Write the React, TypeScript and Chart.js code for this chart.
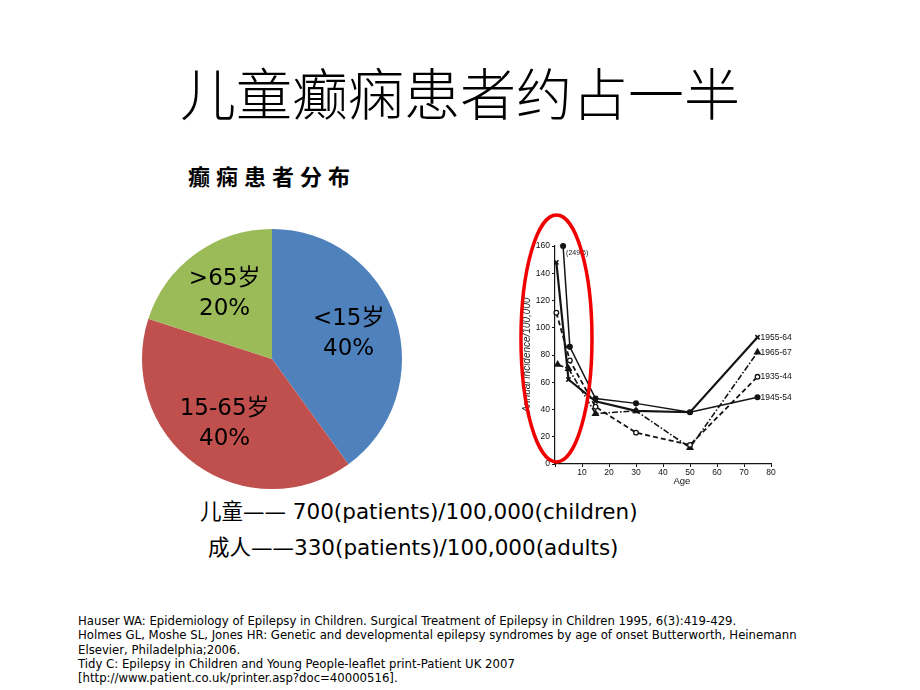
import React, { useEffect, useRef } from "react";
import { Chart, registerables } from "chart.js";

Chart.register(...registerables);

// ---------- pie data ----------
const pieLabels = ["<15岁", "15-65岁", ">65岁"];
const pieValues = [40, 40, 20];
const pieColors = ["#4F81BD", "#C0504D", "#9BBB59"];

// ---------- line chart data (annual incidence per 100,000 by age) ----------
const seriesNames = ["1935-44", "1945-54", "1955-64", "1965-67"];
const ages1935 = [0.5, 5.5, 15, 30, 50, 75];
const inc1935 = [111, 76, 42, 23, 14, 64];
const ages1945 = [3, 5.5, 15, 30, 50, 75];
const inc1945 = [160, 86, 48, 44.5, 38, 49];
const ages1955 = [0.5, 5, 15, 30, 50, 75];
const inc1955 = [148, 62, 46, 39, 38, 93];
const ages1965 = [1, 5, 15, 30, 50, 75];
const inc1965 = [73, 70, 37, 39, 12, 82];
const peakNote = "(249.6)";
const yAxisTitle = "Annual incidence/100,000";
const xAxisTitle = "Age";
const xAxisTitleAge = 47;
// highlighted childhood region (data units)
const hlAge = [-12.6, 13.7];
const hlInc = [1.5, 182.7];

const titleText = "儿童癫痫患者约占一半";
const pieTitle = "癫痫患者分布";
const statLines = [
  "儿童—— 700(patients)/100,000(children)",
  "成人——330(patients)/100,000(adults)",
];
const refLines = [
  "Hauser WA: Epidemiology of Epilepsy in Children. Surgical Treatment of Epilepsy in Children 1995, 6(3):419-429.",
  "Holmes GL, Moshe SL, Jones HR: Genetic and developmental epilepsy syndromes by age of onset Butterworth, Heinemann",
  "Elsevier, Philadelphia;2006.",
  "Tidy C: Epilepsy in Children and Young People-leaflet print-Patient UK 2007",
  "[http://www.patient.co.uk/printer.asp?doc=40000516].",
];

const zip = (xs: number[], ys: number[]) => xs.map((x, i) => ({ x, y: ys[i] }));

const pieLabelPlugin = {
  id: "pieLabels",
  afterDatasetsDraw(chart: any) {
    const ctx = chart.ctx;
    const meta = chart.getDatasetMeta(0);
    const total = pieValues.reduce((a, b) => a + b, 0);
    meta.data.forEach((arc: any, i: number) => {
      const p = arc.getProps(["x", "y", "startAngle", "endAngle", "outerRadius"], true);
      const mid = (p.startAngle + p.endAngle) / 2;
      const r = p.outerRadius * 0.62;
      const cx = p.x + Math.cos(mid) * r;
      const cy = p.y + Math.sin(mid) * r;
      ctx.save();
      ctx.fillStyle = "#000";
      ctx.font = '23px "DejaVu Sans", "Noto Sans CJK SC", sans-serif';
      ctx.textAlign = "center";
      ctx.textBaseline = "middle";
      ctx.fillText(pieLabels[i], cx, cy - 15);
      ctx.fillText(Math.round((pieValues[i] / total) * 100) + "%", cx, cy + 15);
      ctx.restore();
    });
  },
};

const lineExtrasPlugin = {
  id: "lineExtras",
  afterDraw(chart: any) {
    const ctx = chart.ctx;
    const xs = chart.scales.x;
    const ys = chart.scales.y;
    ctx.save();
    ctx.fillStyle = "#111";
    ctx.font = '8.5px "Liberation Sans", sans-serif';
    ctx.textAlign = "left";
    ctx.textBaseline = "middle";
    chart.data.datasets.forEach((ds: any, i: number) => {
      const meta = chart.getDatasetMeta(i);
      const last = meta.data[meta.data.length - 1];
      ctx.fillText(ds.label, last.x + 3, last.y);
    });
    const peak = chart.getDatasetMeta(1).data[0];
    ctx.font = '7px "Liberation Sans", sans-serif';
    ctx.fillText(peakNote, peak.x + 3, peak.y + 7);
    ctx.font = '9.5px "Liberation Sans", sans-serif';
    ctx.textAlign = "center";
    ctx.fillText(xAxisTitle, xs.getPixelForValue(xAxisTitleAge), xs.bottom - 9);
    ctx.restore();

    const x0 = xs.getPixelForValue(hlAge[0]);
    const x1 = xs.getPixelForValue(hlAge[1]);
    const y0 = ys.getPixelForValue(hlInc[1]);
    const y1 = ys.getPixelForValue(hlInc[0]);
    ctx.save();
    ctx.beginPath();
    ctx.ellipse((x0 + x1) / 2, (y0 + y1) / 2, (x1 - x0) / 2, (y1 - y0) / 2, 0, 0, Math.PI * 2);
    ctx.strokeStyle = "#f00000";
    ctx.lineWidth = 3.5;
    ctx.stroke();
    ctx.restore();
  },
};

export default function App() {
  const pieRef = useRef<HTMLCanvasElement>(null);
  const lineRef = useRef<HTMLCanvasElement>(null);

  useEffect(() => {
    const pie = new Chart(pieRef.current!, {
      type: "pie",
      data: {
        labels: pieLabels,
        datasets: [{ data: pieValues, backgroundColor: pieColors, borderWidth: 0 }],
      },
      options: {
        animation: false,
        responsive: true,
        maintainAspectRatio: false,
        layout: { padding: 2 },
        plugins: { legend: { display: false }, tooltip: { enabled: false } },
      },
      plugins: [pieLabelPlugin],
    });

    const ink = "#141414";
    const line = new Chart(lineRef.current!, {
      type: "line",
      data: {
        datasets: [
          {
            label: seriesNames[0],
            data: zip(ages1935, inc1935),
            borderColor: ink,
            borderWidth: 1.8,
            borderDash: [5, 3],
            pointStyle: "circle",
            pointRadius: 2.3,
            pointBackgroundColor: "#fff",
            pointBorderColor: ink,
            pointBorderWidth: 1.3,
            clip: false,
          },
          {
            label: seriesNames[1],
            data: zip(ages1945, inc1945),
            borderColor: ink,
            borderWidth: 1.5,
            pointStyle: "circle",
            pointRadius: 2.3,
            pointBackgroundColor: ink,
            pointBorderColor: ink,
            clip: false,
          },
          {
            label: seriesNames[2],
            data: zip(ages1955, inc1955),
            borderColor: ink,
            borderWidth: 2.2,
            pointStyle: "crossRot",
            pointRadius: 3,
            pointBorderColor: ink,
            pointBorderWidth: 1.6,
            clip: false,
          },
          {
            label: seriesNames[3],
            data: zip(ages1965, inc1965),
            borderColor: ink,
            borderWidth: 1.6,
            borderDash: [6, 2, 1.5, 2],
            pointStyle: "triangle",
            pointRadius: 3,
            pointBackgroundColor: ink,
            pointBorderColor: ink,
            clip: false,
          },
        ],
      },
      options: {
        animation: false,
        responsive: true,
        maintainAspectRatio: false,
        layout: { padding: { left: 0, right: 34, top: 36, bottom: 0 } },
        plugins: { legend: { display: false }, tooltip: { enabled: false } },
        scales: {
          x: {
            type: "linear",
            min: 0,
            max: 80,
            afterFit: (a: any) => {
              a.height = 26;
            },
            ticks: {
              stepSize: 10,
              color: "#111",
              font: { family: "Liberation Sans", size: 8.5 },
              padding: 1,
              maxRotation: 0,
              callback: (v: any) => (v === 0 ? "" : String(v)),
            },
            grid: { drawOnChartArea: false, tickLength: 3, color: ink },
            border: { color: ink, width: 1.2 },
            title: { display: false },
          },
          y: {
            min: 0,
            max: 160,
            afterFit: (a: any) => {
              a.width = 40;
            },
            ticks: {
              stepSize: 20,
              color: "#111",
              font: { family: "Liberation Sans", size: 8.5 },
              padding: 2,
            },
            grid: { drawOnChartArea: false, tickLength: 3, color: ink },
            border: { color: ink, width: 1.2 },
            title: {
              display: true,
              text: yAxisTitle,
              color: "#222",
              font: { family: "Liberation Sans", size: 10, style: "italic" },
              padding: { top: 6, bottom: 0 },
            },
          },
        },
      },
      plugins: [lineExtrasPlugin],
    });

    return () => {
      pie.destroy();
      line.destroy();
    };
  }, []);

  const cjk = '"DejaVu Sans", "Noto Sans CJK SC", sans-serif';

  return (
    <div
      style={{
        position: "absolute",
        left: 0,
        top: 0,
        width: 920,
        height: 690,
        background: "#fff",
        overflow: "hidden",
        color: "#000",
      }}
    >
      <div
        style={{
          position: "absolute",
          left: 0,
          top: 58,
          width: 920,
          textAlign: "center",
          fontSize: 56,
          lineHeight: "66px",
          fontFamily: '"Noto Sans CJK SC", sans-serif',
          fontWeight: 300,
          whiteSpace: "nowrap",
        }}
      >
        {titleText}
      </div>
      <div
        style={{
          position: "absolute",
          left: 188,
          top: 162,
          fontSize: 22,
          lineHeight: "26px",
          fontWeight: 700,
          letterSpacing: 6,
          fontFamily: '"Noto Sans CJK SC", sans-serif',
          whiteSpace: "nowrap",
        }}
      >
        {pieTitle}
      </div>
      <div style={{ position: "absolute", left: 140, top: 227, width: 264, height: 264 }}>
        <canvas ref={pieRef} />
      </div>
      <div style={{ position: "absolute", left: 515, top: 210, width: 290, height: 280 }}>
        <canvas ref={lineRef} />
      </div>
      <div
        style={{
          position: "absolute",
          left: 200,
          top: 499,
          fontSize: 21.5,
          lineHeight: "26px",
          fontFamily: cjk,
          whiteSpace: "nowrap",
        }}
      >
        {statLines[0]}
      </div>
      <div
        style={{
          position: "absolute",
          left: 208,
          top: 535,
          fontSize: 21.5,
          lineHeight: "26px",
          fontFamily: cjk,
          whiteSpace: "nowrap",
        }}
      >
        {statLines[1]}
      </div>
      <div
        style={{
          position: "absolute",
          left: 78,
          top: 614,
          fontSize: 13,
          lineHeight: "14.3px",
          fontFamily: '"DejaVu Sans Condensed", "DejaVu Sans", sans-serif',
          fontStretch: "condensed",
          whiteSpace: "nowrap",
        }}
      >
        {refLines.map((l, i) => (
          <div key={i}>{l}</div>
        ))}
      </div>
    </div>
  );
}
